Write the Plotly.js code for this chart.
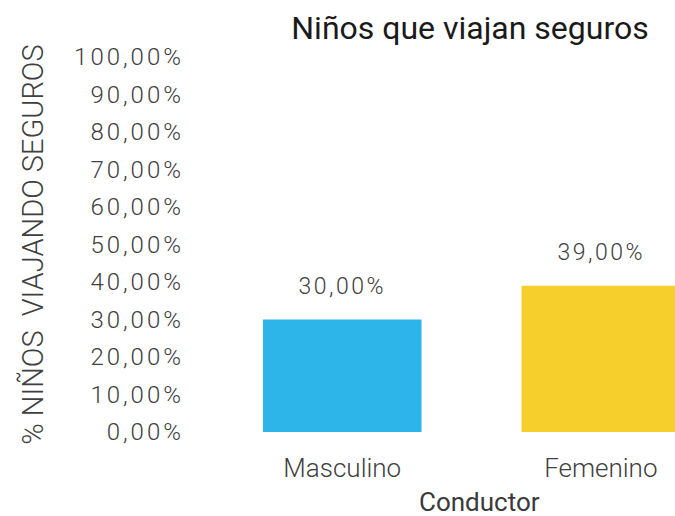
<!DOCTYPE html>
<html>
<head>
<meta charset="utf-8">
<script src="https://cdn.plot.ly/plotly-3.0.1.min.js"></script>
<style>
html,body{margin:0;padding:0;background:#fff;}
#chart{width:675px;height:516px;}
.ytick text{letter-spacing:3px;}
g.annotation[data-index="0"] text, g.annotation[data-index="1"] text{letter-spacing:2.5px;}
</style>
</head>
<body>
<div id="chart"></div>
<script>
const categories = ["Masculino", "Femenino"];
const values = [0.30, 0.39];
const barColors = ["#2DB4E8", "#F6CF2C"];
const valueLabels = ["30,00%", "39,00%"];
const tickVals = [0, 0.1, 0.2, 0.3, 0.4, 0.5, 0.6, 0.7, 0.8, 0.9, 1.0];

const trace = {
  type: "bar",
  x: categories,
  y: values,
  marker: {color: barColors},
  hoverinfo: "none"
};

const annotations = categories.map((c, i) => ({
  x: c, y: values[i], xref: "x", yref: "y",
  text: valueLabels[i], showarrow: false,
  yanchor: "bottom", yshift: 18,
  font: {family: "Roboto", size: 23, color: "#404040", weight: 300}
}));
annotations.push({
  text: "Conductor", xref: "paper", yref: "paper",
  x: 0.576, y: -0.187, xanchor: "center", yanchor: "middle",
  showarrow: false,
  font: {family: "Roboto", size: 26, color: "#3a3a3a", weight: 400}
});

const layout = {
  width: 675, height: 516,
  margin: {l: 213, r: 0, t: 57, b: 84},
  paper_bgcolor: "#fff", plot_bgcolor: "#fff",
  separators: ", ",
  showlegend: false,
  bargap: 0.387,
  title: {
    text: "Niños que viajan seguros",
    xref: "container", yref: "container",
    x: 470/675, y: 1 - 28/516, xanchor: "center", yanchor: "middle",
    font: {family: "Roboto", size: 32, color: "#1a1a1a"}
  },
  xaxis: {
    type: "category", range: [-0.5, 1.287],
    showgrid: false, zeroline: false, showline: false, ticks: "",
    ticklabelstandoff: 18,
    tickfont: {family: "Roboto", size: 26, color: "#404040", weight: 300}
  },
  yaxis: {
    range: [0, 1], tickvals: tickVals, tickformat: ".2%",
    showgrid: false, zeroline: false, showline: false, ticks: "",
    ticklabelstandoff: 28,
    tickfont: {family: "Roboto", size: 24, color: "#404040", weight: 300},
    title: {
      text: "% NIÑOS  VIAJANDO SEGUROS",
      standoff: 21,
      font: {family: "Roboto", size: 29, color: "#404040", weight: 300}
    }
  },
  annotations: annotations
};

Plotly.newPlot("chart", [trace], layout, {displayModeBar: false, staticPlot: true});
</script>
</body>
</html>
